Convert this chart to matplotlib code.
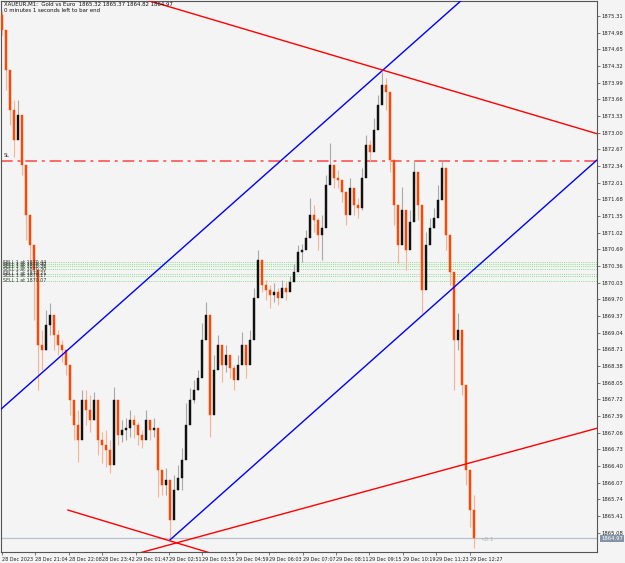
import numpy as np
import matplotlib.pyplot as plt

# XAUEUR M1 bars (close / high / low), open = previous close
closes = [1875.04, 1874.24, 1873.45, 1872.86, 1873.35, 1872.36, 1871.37, 1870.78, 1870.28, 1868.80,
          1868.70, 1869.20, 1869.39, 1869.00, 1868.80, 1868.70, 1868.40, 1867.71, 1867.22, 1866.92,
          1867.71, 1867.51, 1867.31, 1867.71, 1866.92, 1866.82, 1866.72, 1866.42, 1867.71, 1867.02,
          1867.12, 1867.16, 1867.31, 1867.22, 1867.02, 1866.92, 1867.31, 1867.12, 1867.16, 1866.32,
          1866.03, 1866.13, 1865.33, 1865.93, 1866.17, 1866.52, 1867.22, 1867.71, 1867.91, 1868.15,
          1868.90, 1869.39, 1867.41, 1868.30, 1868.80, 1868.40, 1868.60, 1868.34, 1868.11, 1868.40,
          1868.80, 1868.40, 1868.90, 1869.73, 1870.48, 1869.99, 1869.89, 1869.79, 1869.85, 1869.73,
          1869.93, 1869.85, 1870.05, 1870.25, 1870.64, 1870.68, 1870.92, 1871.37, 1871.27, 1870.98,
          1871.12, 1871.97, 1872.36, 1872.11, 1872.07, 1871.83, 1871.37, 1871.91, 1871.57, 1871.51,
          1872.11, 1872.76, 1872.62, 1873.06, 1873.55, 1873.95, 1873.81, 1872.46, 1871.57, 1870.78,
          1871.47, 1870.68, 1871.24, 1872.22, 1871.57, 1869.89, 1870.78, 1871.12, 1871.32, 1871.67,
          1872.30, 1870.98, 1870.25, 1868.90, 1869.10, 1868.01, 1866.32, 1865.53, 1864.97]
highs = [1875.43, 1874.94, 1873.75, 1873.65, 1873.65, 1873.06, 1871.87, 1871.18, 1870.68, 1869.29,
         1869.10, 1869.49, 1869.63, 1869.29, 1869.10, 1868.90, 1868.70, 1868.01, 1867.61, 1867.51,
         1867.91, 1867.91, 1867.81, 1867.87, 1867.16, 1867.08, 1867.12, 1866.92, 1867.97, 1867.22,
         1867.31, 1867.35, 1867.51, 1867.41, 1867.27, 1867.12, 1867.51, 1867.31, 1867.35, 1866.92,
         1866.32, 1866.36, 1865.83, 1866.23, 1866.42, 1866.76, 1867.65, 1867.95, 1868.11, 1868.30,
         1869.23, 1869.65, 1868.50, 1868.60, 1869.00, 1868.70, 1868.80, 1868.60, 1868.40, 1868.60,
         1869.06, 1868.66, 1869.10, 1869.93, 1870.68, 1870.13, 1870.09, 1869.99, 1870.03, 1869.93,
         1870.09, 1870.05, 1870.17, 1870.40, 1870.78, 1870.80, 1871.08, 1871.71, 1871.57, 1871.32,
         1871.37, 1872.17, 1872.80, 1872.36, 1872.27, 1872.07, 1871.71, 1872.11, 1871.83, 1871.71,
         1872.30, 1872.96, 1872.86, 1873.29, 1873.75, 1874.20, 1874.09, 1873.06, 1872.36, 1871.08,
         1871.93, 1870.98, 1871.47, 1872.46, 1871.91, 1870.58, 1871.04, 1871.32, 1871.51, 1871.97,
         1872.46, 1871.77, 1870.58, 1869.89, 1869.43, 1868.60, 1867.22, 1866.07, 1865.83]
lows = [1874.94, 1873.85, 1873.16, 1872.52, 1873.06, 1872.17, 1870.88, 1870.44, 1869.29, 1867.91,
        1868.30, 1868.70, 1869.00, 1868.70, 1868.60, 1868.46, 1868.21, 1867.41, 1866.92, 1866.48,
        1867.31, 1867.22, 1867.08, 1867.31, 1866.62, 1866.46, 1866.38, 1866.26, 1867.12, 1866.82,
        1866.88, 1866.92, 1866.98, 1866.96, 1866.82, 1866.76, 1867.02, 1866.92, 1866.98, 1865.79,
        1865.83, 1865.83, 1864.94, 1865.63, 1865.93, 1865.93, 1866.92, 1867.35, 1867.65, 1867.91,
        1868.40, 1869.00, 1866.98, 1868.01, 1868.40, 1868.07, 1868.26, 1868.15, 1867.91, 1868.15,
        1868.50, 1868.15, 1868.66, 1869.00, 1870.09, 1869.85, 1869.69, 1869.53, 1869.65, 1869.59,
        1869.79, 1869.69, 1869.89, 1870.09, 1870.48, 1870.44, 1870.72, 1871.08, 1871.04, 1870.68,
        1870.48, 1871.57, 1872.11, 1871.91, 1871.91, 1871.63, 1871.18, 1871.71, 1871.37, 1871.32,
        1871.47, 1872.56, 1872.42, 1872.76, 1873.25, 1873.65, 1873.45, 1872.22, 1871.18, 1870.42,
        1870.88, 1870.28, 1870.98, 1871.97, 1871.27, 1869.43, 1870.58, 1870.88, 1871.12, 1871.37,
        1872.11, 1870.68, 1869.99, 1867.91, 1868.70, 1867.81, 1866.03, 1865.20, 1864.78]
first_open = 1875.32

price_ticks = [1875.31, 1874.98, 1874.65, 1874.32, 1873.99, 1873.66, 1873.33, 1873.00, 1872.67,
               1872.34, 1872.01, 1871.68, 1871.35, 1871.02, 1870.69, 1870.36, 1870.03, 1869.70,
               1869.37, 1869.04, 1868.71, 1868.38, 1868.05, 1867.72, 1867.39, 1867.06, 1866.73,
               1866.40, 1866.07, 1865.74, 1865.41, 1865.08]
date_pos = [0, 8.35, 16.7, 25.05, 33.4, 41.75, 50.1, 58.45, 66.8, 75.15, 83.5, 91.85, 100.2, 108.55, 116.9]
date_labels = ["28 Dec 2023", "28 Dec 21:04", "28 Dec 22:08", "28 Dec 23:42", "29 Dec 01:47",
               "29 Dec 02:51", "29 Dec 03:55", "29 Dec 04:59", "29 Dec 06:03", "29 Dec 07:07",
               "29 Dec 08:11", "29 Dec 09:15", "29 Dec 10:19", "29 Dec 11:23", "29 Dec 12:27"]

sell_prices = [1870.44, 1870.40, 1870.36, 1870.30, 1870.21, 1870.17, 1870.07]
sl_price = 1872.44
last_price = 1864.97

# trendlines: (bar, price) anchor pairs
blue_up = [(-0.5, 1867.51), (115.0, 1875.63)]
blue_low = [(42.0, 1864.94), (148.75, 1872.46)]
red_up = [(36.0, 1875.63), (148.75, 1872.98)]
red_low = [(16.5, 1865.53), (51.25, 1864.70)]
red_rise = [(35.25, 1864.70), (148.75, 1867.15)]

bg = '#f4f4f4'
fig = plt.figure(figsize=(6.25, 5.63), dpi=100, facecolor=bg)
ax = fig.add_axes([0.0024, 0.0195, 0.9528, 0.979])
ax.set_facecolor(bg)
xmin, xmax = -0.125, 148.75
ax.set_xlim(xmin, xmax)
ax.set_ylim(1864.70, 1875.61)

# green sell levels
for p in sell_prices:
    ax.axhline(p, color='#8fdc8f', lw=0.7, ls=(0, (1, 1.2)), zorder=1)
    ax.text(0.3, p, "SELL 1 at %.2f" % p, fontsize=3.4, color='#333333',
            va='center', ha='left', zorder=5)

# stop level
ax.axhline(sl_price, color='#ff6a6a', lw=1.4, ls=(0, (6, 2.5, 1.5, 2.5)), zorder=1)
ax.text(0.5, sl_price + 0.05, "SL", fontsize=3.5, color='#333333', va='bottom')

# last price line
ax.axhline(last_price, color='#b8c0cc', lw=0.9, zorder=1)

# candles
opens = [first_open] + closes[:-1]
for i in range(len(closes)):
    o, c, h, l = opens[i], closes[i], highs[i], lows[i]
    if c >= o:
        wick, body = '#a8a8a8', '#111111'
    else:
        wick, body = '#ffb090', '#ff4500'
    ax.vlines(i, l, h, color=wick, lw=0.8, zorder=3)
    lo, hi = min(o, c), max(o, c)
    ax.add_patch(plt.Rectangle((i - 0.22, lo), 0.44, max(hi - lo, 0.02),
                               facecolor=body, edgecolor=body, lw=0.3, zorder=4))


def draw_line(pts, color, ray_left=True):
    (x1, y1), (x2, y2) = pts
    k = (y2 - y1) / (x2 - x1)
    xa = xmin - 5 if ray_left else x1
    xb = xmax + 5
    ax.plot([xa, xb], [y1 + k * (xa - x1), y1 + k * (xb - x1)], color=color, lw=1.0, zorder=6)


draw_line(blue_up, '#0000ff')
draw_line(blue_low, '#0000ff', ray_left=False)
draw_line(red_up, '#ff0000')
draw_line(red_low, '#ff0000', ray_left=False)
draw_line(red_rise, '#ff0000')

ax.text(119.5, last_price - 0.02, "<0:1", fontsize=4, color='#b0b0b0', va='center')

# axes styling
for s in ax.spines.values():
    s.set_color('#555555')
    s.set_linewidth(0.8)
ax.yaxis.tick_right()
ax.set_yticks(price_ticks)
ax.set_yticklabels(["%.2f" % p for p in price_ticks], fontsize=3.8, color='#222222')
ax.tick_params(axis='y', length=2, width=0.5, pad=1, colors='#444444', labelcolor='#222222')
ax.set_xticks(date_pos)
ax.set_xticklabels(date_labels, fontsize=3.5, ha='left', color='#222222')
ax.tick_params(axis='x', length=2, width=0.5, pad=1.5, colors='#444444', labelcolor='#222222')

ax.annotate("%.2f" % last_price, xy=(1.0, last_price), xycoords=('axes fraction', 'data'),
            xytext=(3, 0), textcoords='offset points', fontsize=3.8, color='white',
            va='center', ha='left',
            bbox=dict(boxstyle='square,pad=0.2', facecolor='#8494a8', edgecolor='none'))

fig.text(0.006, 0.997, "XAUEUR,M1:  Gold vs Euro  1865.32 1865.37 1864.82 1864.97",
         fontsize=3.9, va='top', ha='left', color='#111111')
fig.text(0.006, 0.985, "0 minutes 1 seconds left to bar end",
         fontsize=3.9, va='top', ha='left', color='#111111')

fig.savefig('out.png', dpi=100, facecolor=bg)
